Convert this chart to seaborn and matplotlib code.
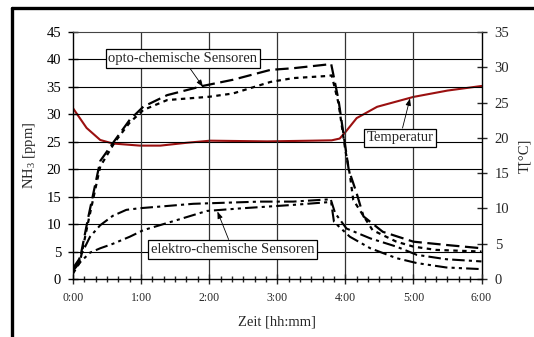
import numpy as np
import pandas as pd
import matplotlib
matplotlib.use("Agg")
import matplotlib.pyplot as plt
from matplotlib.lines import Line2D
from matplotlib.ticker import MultipleLocator, FixedLocator
import seaborn as sns

# ---- data (time in minutes) ----
opto1_t = [0, 6, 13.5, 24, 37, 50, 62, 83, 115, 141, 174, 194, 225, 227.5, 234, 240, 243, 250, 256, 273, 300, 329, 360]
opto1_v = [1.5, 3.5, 11.3, 21.5, 25.3, 29.0, 31.4, 33.5, 35.2, 36.3, 38.1, 38.4, 39.1, 39.2, 32.6, 24.1, 19.9, 15.6, 11.4, 8.6, 6.8, 6.2, 5.6]

opto2_t = [0, 6, 13.5, 24, 37, 50, 62, 83, 120, 141, 174, 194, 225, 228, 234, 240, 244, 247, 264, 285, 300, 320, 360]
opto2_v = [1.0, 3.0, 10.5, 20.5, 25.0, 28.5, 30.8, 32.6, 33.2, 33.8, 35.9, 36.6, 37.0, 37.1, 32.0, 23.5, 19.0, 14.4, 8.9, 6.8, 5.9, 5.3, 5.0]

elektro1_t = [0, 5, 15, 24, 35, 47, 59, 77, 106, 135, 165, 194, 225, 227, 231, 241, 262, 285, 303, 329, 360]
elektro1_v = [2.0, 3.5, 7.7, 9.8, 11.5, 12.6, 12.9, 13.2, 13.7, 13.9, 14.1, 14.1, 14.5, 14.6, 12.0, 9.2, 7.4, 5.9, 4.4, 3.6, 3.2]

elektro2_t = [0, 6, 15, 24, 35, 50, 62, 91, 118, 150, 165, 194, 225, 227.5, 230, 244, 262, 285, 303, 329, 360]
elektro2_v = [1.5, 3.0, 4.8, 5.6, 6.4, 7.7, 8.9, 10.7, 12.4, 12.9, 13.1, 13.5, 14.0, 14.0, 10.4, 7.7, 5.6, 3.8, 2.9, 2.1, 1.8]

temp_t = [0, 12, 24, 35, 59, 77, 100, 121, 171, 211, 228, 235, 240, 245, 250, 268, 300, 330, 360]
temp_v = [24.2, 21.4, 19.7, 19.2, 18.9, 18.9, 19.3, 19.6, 19.5, 19.6, 19.65, 19.9, 20.8, 21.8, 22.8, 24.4, 25.8, 26.7, 27.35]

x_ticks = [0, 60, 120, 180, 240, 300, 360]
x_labels = ["0:00", "1:00", "2:00", "3:00", "4:00", "5:00", "6:00"]

sns.set_style("white")
plt.rcParams["font.family"] = ["Liberation Serif", "DejaVu Serif"]
plt.rcParams["mathtext.fontset"] = "custom"
plt.rcParams["mathtext.rm"] = "Liberation Serif"

fig = plt.figure(figsize=(5.34, 3.37), dpi=100)
ax = fig.add_axes([73/534, 1-279/337, (481.5-73)/534, (279-32)/337])
ax2 = ax.twinx()

# grid
ax.set_xlim(0, 360)
ax.set_ylim(0, 45)
ax2.set_ylim(0, 35)
ax.yaxis.set_major_locator(MultipleLocator(5))
ax2.yaxis.set_major_locator(MultipleLocator(5))
ax.xaxis.set_major_locator(FixedLocator(x_ticks))
ax.set_xticklabels(x_labels)
ax.xaxis.set_minor_locator(MultipleLocator(10))
for v in range(5, 45, 5):
    ax.axhline(v, color="black", lw=0.8, zorder=0.5)
for v in x_ticks[1:-1]:
    ax.axvline(v, color="#333333", lw=0.9, zorder=0.5)

blk = "black"
sns.lineplot(x=opto1_t, y=opto1_v, ax=ax, color=blk, lw=1.6, estimator=None, sort=False,
             linestyle=(0, (6, 2.5)))
sns.lineplot(x=opto2_t, y=opto2_v, ax=ax, color=blk, lw=1.6, estimator=None, sort=False,
             linestyle=(0, (2, 2)))
sns.lineplot(x=elektro1_t, y=elektro1_v, ax=ax, color=blk, lw=1.5, estimator=None, sort=False,
             linestyle=(0, (6, 2, 1.5, 2)))
sns.lineplot(x=elektro2_t, y=elektro2_v, ax=ax, color=blk, lw=1.5, estimator=None, sort=False,
             linestyle=(0, (6, 2, 1.5, 2, 1.5, 2)))
sns.lineplot(x=temp_t, y=temp_v, ax=ax2, color="#9b1010", lw=1.5, estimator=None, sort=False)

for a in (ax, ax2):
    for s in a.spines.values():
        s.set_visible(False)
ax.spines["left"].set_visible(True)
ax.spines["bottom"].set_visible(True)
ax.spines["top"].set_visible(True)
ax.spines["top"].set_color("#444444")
ax2.spines["right"].set_visible(True)
for s in ("left", "bottom"):
    ax.spines[s].set_color("black")
    ax.spines[s].set_linewidth(1.0)
ax2.spines["right"].set_color("black")
ax2.spines["right"].set_linewidth(1.0)

ax.tick_params(axis="y", which="major", direction="inout", length=7, width=1, pad=5,
               labelsize=10.5, left=True, colors="black")
ax.tick_params(axis="x", which="major", direction="inout", length=7, width=1, pad=6,
               labelsize=8.5, bottom=True)
ax.tick_params(axis="x", which="minor", direction="inout", length=4, width=1, bottom=True)
ax2.tick_params(axis="y", direction="inout", length=7, width=1, pad=6, labelsize=10.5, right=True)

ax.set_xlabel("Zeit [hh:mm]", fontsize=10.5, labelpad=8)
ax.set_ylabel(r"NH$_\mathrm{3}$ [ppm]", fontsize=10.5, labelpad=6)
ax2.set_ylabel("T[°C]", fontsize=10.5, rotation=90, labelpad=6)

bbox = dict(boxstyle="square,pad=0.2", fc="white", ec="black", lw=0.9)
arrow = dict(arrowstyle="-|>,head_length=0.4,head_width=0.15", color="black", lw=0.6,
             shrinkA=0, shrinkB=0)
ax.annotate("opto-chemische Sensoren", xy=(114.6, 35.0), xytext=(96.9, 40.2),
            fontsize=10.5, ha="center", va="center", bbox=bbox, arrowprops=arrow, zorder=5)
ax.annotate("Temperatur", xy=(297, 32.9), xytext=(288.2, 25.7),
            fontsize=10.5, ha="center", va="center", bbox=bbox, arrowprops=arrow, zorder=5)
ax.annotate("elektro-chemische Sensoren", xy=(127.3, 12.3), xytext=(140.6, 5.4),
            fontsize=10.5, ha="center", va="center", bbox=bbox, arrowprops=arrow, zorder=5)
ax.set_zorder(ax2.get_zorder() + 1)
ax.patch.set_visible(False)

# outer frame
fig.add_artist(Line2D([12/534, 1.0], [1-8/337, 1-8/337], color="black", lw=2.4,
                      transform=fig.transFigure))
fig.add_artist(Line2D([12/534, 12/534], [0.0, 1-8/337], color="black", lw=2.4,
                      transform=fig.transFigure))

fig.savefig("out.png", dpi=100)
